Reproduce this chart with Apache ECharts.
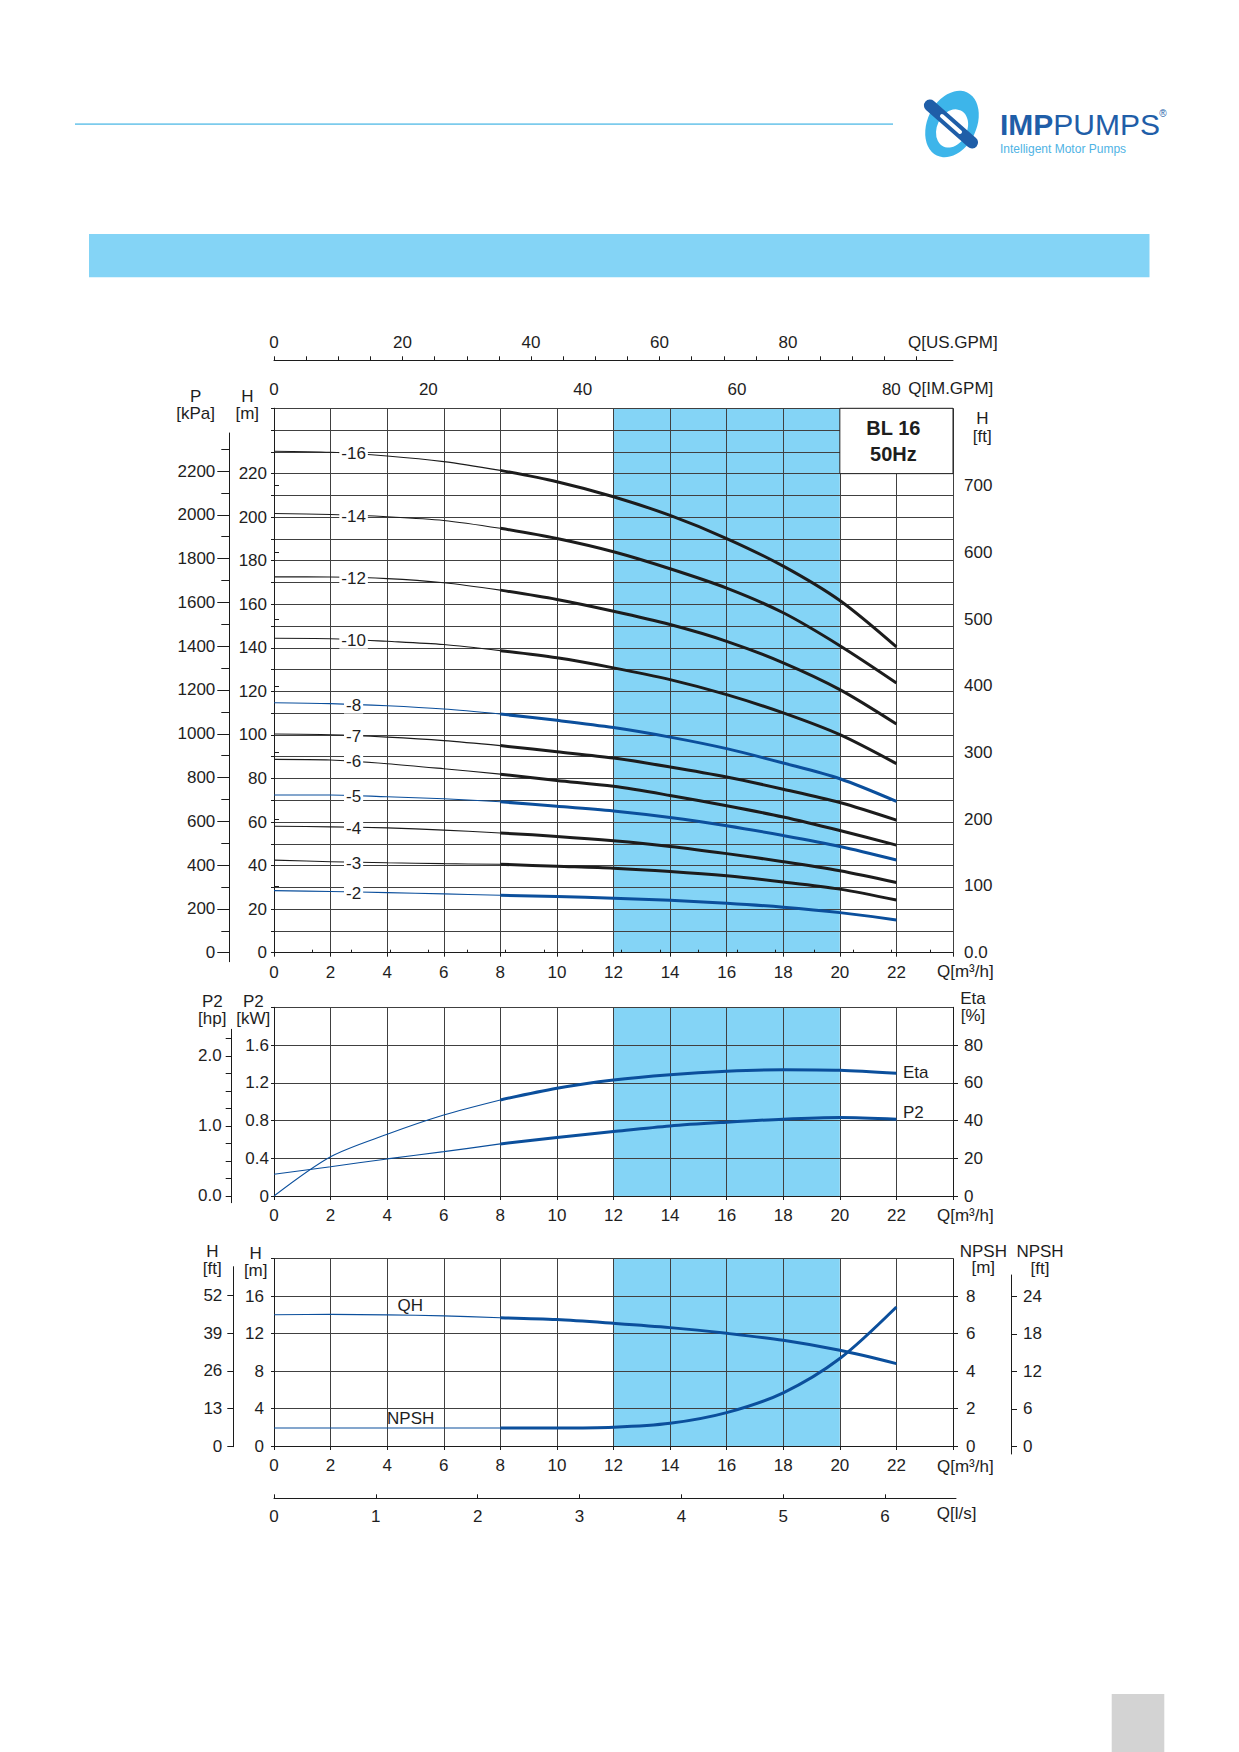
<!DOCTYPE html>
<html><head><meta charset="utf-8">
<script src="https://cdn.jsdelivr.net/npm/echarts@6/dist/echarts.min.js"></script>
<style>html,body{margin:0;padding:0;background:#fff}#c{width:1239px;height:1752px}</style>
</head><body><div id="c"></div>
<script>
// ---------- data ----------
const Q = [0, 2, 4, 6, 8, 10, 12, 14, 16, 18, 20, 22];            // m3/h
const curveNames = ['-16', '-14', '-12', '-10', '-8', '-7', '-6', '-5', '-4', '-3', '-2'];
const curveBlue  = [false, false, false, false, true, false, false, true, false, false, true];
const H16 = [230.3, 229.8, 228.1, 225.5, 221.5, 216.3, 209.4, 200.8, 190.2, 177.5, 161.7, 140.4];
const H14 = [201.7, 201.2, 200.2, 198.5, 194.9, 190.2, 184.1, 176.3, 167.4, 156.1, 141.0, 123.9];
const H12 = [172.6, 172.5, 171.8, 169.9, 166.5, 162.2, 156.8, 150.7, 143.0, 133.1, 120.8, 105.0];
const H10 = [144.4, 144.2, 143.0, 141.5, 138.7, 135.4, 130.8, 125.4, 118.5, 110.1, 100.1, 86.8];
const H8  = [114.8, 114.4, 113.4, 111.9, 109.6, 106.7, 103.4, 99.0, 93.7, 87.1, 79.9, 69.5];
const H7  = [100.4, 100.1, 99.0, 97.4, 95.1, 92.3, 89.4, 85.3, 80.7, 75.1, 69.0, 60.9];
const H6  = [88.8, 88.5, 86.8, 84.5, 82.0, 79.1, 76.4, 72.2, 67.5, 62.3, 56.1, 49.4];
const H5  = [72.4, 72.4, 71.6, 70.7, 69.3, 67.3, 65.1, 62.1, 58.3, 53.8, 48.8, 42.6];
const H4  = [58.1, 57.8, 57.3, 56.3, 55.0, 53.4, 51.4, 48.8, 45.5, 41.8, 37.6, 32.2];
const H3  = [42.5, 41.8, 41.3, 40.9, 40.6, 39.7, 38.8, 37.3, 35.3, 32.5, 29.2, 24.2];
const H2  = [28.5, 28.1, 27.6, 27.0, 26.4, 25.8, 25.0, 24.1, 22.7, 20.9, 18.4, 15.0];
const etaPct = [0, 20.8, 32.7, 42.9, 50.9, 57.1, 61.5, 64.3, 66.1, 66.9, 66.6, 65.0];
const p2kW   = [0.23, 0.31, 0.393, 0.47, 0.552, 0.619, 0.683, 0.743, 0.782, 0.814, 0.831, 0.814];
const qhM    = [14.02, 14.05, 14.0, 13.9, 13.7, 13.5, 13.1, 12.64, 12.03, 11.29, 10.22, 8.8];
const npshM  = [0.96, 0.96, 0.96, 0.96, 0.96, 0.96, 1.0, 1.21, 1.78, 2.84, 4.67, 7.42];
const bandQ  = [12, 20];
const modelBox = [20, 24, 220, 250];
const modelText = 'BL 16\n50Hz';

// tick labels
const qTicks = [0, 2, 4, 6, 8, 10, 12, 14, 16, 18, 20, 22];
const hTicks = [0, 20, 40, 60, 80, 100, 120, 140, 160, 180, 200, 220];
const pTicks = [0, 200, 400, 600, 800, 1000, 1200, 1400, 1600, 1800, 2000, 2200];
const pMinorTicks = [100, 300, 500, 700, 900, 1100, 1300, 1500, 1700, 1900, 2100, 2300];
const ftTicks = [0, 100, 200, 300, 400, 500, 600, 700];
const imTicks = [0, 5, 10, 15, 20, 25, 30, 35, 40, 45, 50, 55, 60, 65, 70, 75, 80, 85];
const imLabels = [0, 20, 40, 60, 80];
const usTicks = [0, 5, 10, 15, 20, 25, 30, 35, 40, 45, 50, 55, 60, 65, 70, 75, 80, 85, 90, 95, 100];
const usLabels = [0, 20, 40, 60, 80];
const kwTicks = [0, 0.4, 0.8, 1.2, 1.6];
const etaTicks = [0, 20, 40, 60, 80];
const hpTicks = [0, 0.25, 0.5, 0.75, 1, 1.25, 1.5, 1.75, 2, 2.25];
const hpLabels = [0, 1, 2];
const hbTicks = [0, 4, 8, 12, 16];
const npshTicks = [0, 2, 4, 6, 8];
const hftTicks = [0, 13, 26, 39, 52];
const npshFtTicks = [0, 6, 12, 18, 24];
const lsTicks = [0, 1, 2, 3, 4, 5, 6];

// ---------- style ----------
const BLACK = '#1c1c1c', BLUE = '#0b4f9c', GRIDC = '#404040', TXT = '#1e1e1e', BAND = '#84d4f6';
const FONT = '"Liberation Sans", Arial, sans-serif';
const FS = 17;
const SMOOTH = 0.3;

const curves = [H16, H14, H12, H10, H8, H7, H6, H5, H4, H3, H2];
const pts = arr => Q.map((q, i) => [q, arr[i]]);
const lbl = (extra) => Object.assign({ color: TXT, fontSize: FS, fontFamily: FONT }, extra || {});
const axLine = { show: true, lineStyle: { color: BLACK, width: 1 } };
const plain = v => String(v);
const ghost = { color: 'rgba(0,0,0,0)', opacity: 1 };

function qAxis(gi) {
  return { gridIndex: gi, type: 'value', min: 0, max: 24, interval: 2, position: 'bottom', z: 2,
    axisLine: axLine, axisTick: { show: true, length: 4, lineStyle: { color: BLACK } },
    axisLabel: lbl({ customValues: qTicks, margin: 11, formatter: plain }),
    splitLine: { show: true, lineStyle: { color: GRIDC, width: 1 } } };
}
function hidden(gi) { return { gridIndex: gi, type: 'value', show: false, min: 0, max: 1 }; }
function sideAxis(gi, pos, min, max, ticks, labels, tlen, margin, fmt) {
  return { gridIndex: gi, type: 'value', position: pos, min: min, max: max, z: 2,
    axisLine: axLine,
    axisTick: { show: true, customValues: ticks, length: tlen, lineStyle: { color: BLACK } },
    axisLabel: labels ? lbl({ customValues: labels, margin: margin, formatter: fmt || plain }) : { show: false },
    splitLine: { show: false } };
}

// ---------- series ----------
const series = [];
// blue duty bands (under grid lines)
[[0, 0], [3, 4], [4, 7]].forEach(([xi, yi]) => {
  series.push({ type: 'line', xAxisIndex: xi, yAxisIndex: yi, data: [], silent: true,
    markArea: { silent: true, z: 1, itemStyle: { color: BAND }, label: { show: false },
      data: [[{ xAxis: bandQ[0] }, { xAxis: bandQ[1] }]] } });
});
// model box
series.push({ type: 'line', xAxisIndex: 0, yAxisIndex: 0, data: [], silent: true, z: 5,
  markArea: { silent: true, z: 5, itemStyle: { color: '#fff', borderColor: BLACK, borderWidth: 1 },
    label: { show: true, position: 'inside', formatter: modelText, color: TXT, fontSize: 20,
      fontWeight: 'bold', fontFamily: FONT, lineHeight: 26, offset: [-3, 0] },
    data: [[{ xAxis: modelBox[0], yAxis: modelBox[2] }, { xAxis: modelBox[1], yAxis: modelBox[3] }]] } });

function addCurve(arr, xi, yi, color) {
  const p = pts(arr);
  series.push({ type: 'line', xAxisIndex: xi, yAxisIndex: yi, data: p.slice(0, 5), showSymbol: false,
    smooth: SMOOTH, silent: true, z: 3, lineStyle: { color: color, width: 1.1 } });
  series.push({ type: 'line', xAxisIndex: xi, yAxisIndex: yi, data: p.slice(4), showSymbol: false,
    smooth: SMOOTH, silent: true, z: 3, lineStyle: { color: color, width: 3 } });
}
curves.forEach((c, i) => addCurve(c, 0, 0, curveBlue[i] ? BLUE : BLACK));
addCurve(etaPct, 3, 5, BLUE);
addCurve(p2kW, 3, 4, BLUE);
addCurve(qhM, 4, 7, BLUE);
addCurve(npshM, 4, 8, BLUE);

// curve labels (white boxes breaking lines)
function labelSeries(xi, yi, data, labelOpt) {
  series.push({ type: 'scatter', xAxisIndex: xi, yAxisIndex: yi, z: 6, silent: true, symbolSize: 1,
    itemStyle: ghost, label: lbl(Object.assign({ show: true, opacity: 1, textBorderWidth: 0 }, labelOpt)), data: data });
}
labelSeries(0, 0, curves.map((c, i) => ({ name: curveNames[i], value: [Q[1], c[1]] })),
  { position: 'inside', offset: [23, 1.5], formatter: p => p.name, backgroundColor: '#fff', padding: [0, 2], lineHeight: 17 });
labelSeries(3, 5, [[Q[11], etaPct[11]]], { position: 'right', distance: 6, offset: [0, -1], formatter: 'Eta' });
labelSeries(3, 4, [[Q[11], p2kW[11]]], { position: 'right', distance: 6, offset: [0, -7], formatter: 'P2' });
labelSeries(4, 7, [[Q[2], qhM[2]]], { position: 'inside', offset: [23, -9], formatter: 'QH' });
labelSeries(4, 8, [[Q[2], npshM[2]]], { position: 'inside', offset: [23.5, -10], formatter: 'NPSH' });

// ---------- graphic (page furniture + axis headers) ----------
function T(text, x, y, align, size, weight, fill) {
  return { type: 'text', silent: true, z: 10, style: { text: text, x: x, y: y, align: align || 'center',
    textAlign: align || 'center', verticalAlign: 'middle', textVerticalAlign: 'middle',
    font: (weight || 'normal') + ' ' + (size || FS) + 'px ' + FONT, fill: fill || TXT } };
}
const LOGO_DARK = '#1f5ea8', LOGO_LIGHT = '#3db5ea';
const graphic = [
  { type: 'rect', silent: true, shape: { x: 75, y: 123.3, width: 818, height: 1.6 }, style: { fill: '#7ccbec' } },
  { type: 'rect', silent: true, shape: { x: 89, y: 234, width: 1060.5, height: 43.3 }, style: { fill: BAND } },
  { type: 'rect', silent: true, shape: { x: 1111.7, y: 1694, width: 52.6, height: 58 }, style: { fill: '#d3d3d3' } },
  // logo icon: tilted light-blue ring crossed by a dark-blue band
  { type: 'group', x: 952, y: 124, rotation: -0.45, silent: true, children: [
    { type: 'circle', shape: { cx: 0, cy: 0, r: 35 }, scaleX: 0.7, style: { fill: LOGO_LIGHT } },
    { type: 'circle', shape: { cx: 0, cy: 0, r: 20 }, x: 2, y: 4, scaleX: 0.75, style: { fill: '#fff' } }
  ] },
  { type: 'group', x: 951, y: 124, rotation: -0.72, silent: true, children: [
    { type: 'rect', shape: { x: -34, y: -6, width: 68, height: 12, r: 6 }, style: { fill: LOGO_DARK } },
    { type: 'rect', shape: { x: -14, y: -2, width: 28, height: 4, r: 2 }, style: { fill: '#fff' } }
  ] },
  { type: 'text', silent: true, style: { x: 1000, y: 124, text: '{b|IMP}{r|PUMPS}', verticalAlign: 'middle', textVerticalAlign: 'middle',
    rich: { b: { fontSize: 30, fontWeight: 'bold', fontFamily: FONT, fill: LOGO_DARK },
            r: { fontSize: 30, fontFamily: FONT, fill: LOGO_DARK } } } },
  T('®', 1163, 113, 'center', 10, 'normal', LOGO_DARK),
  T('Intelligent Motor Pumps', 1000, 149, 'left', 12, 'normal', '#4fb3e4'),
  // main chart headers
  T('Q[US.GPM]', 908, 342.7, 'left'),
  T('Q[IM.GPM]', 908.3, 388.3, 'left'),
  T('P', 195.7, 396), T('[kPa]', 195.7, 413.3),
  T('H', 247.3, 396), T('[m]', 247.3, 413.3),
  T('H', 982.3, 418.3), T('[ft]', 982.3, 436),
  T('Q[m³/h]', 937, 971.7, 'left'),
  // middle chart headers
  T('P2', 212.3, 1001.7), T('[hp]', 212.3, 1018.3),
  T('P2', 253.3, 1001.7), T('[kW]', 253.3, 1018.3),
  T('Eta', 973, 998.3), T('[%]', 973, 1015),
  T('Q[m³/h]', 937, 1215, 'left'),
  // bottom chart headers
  T('H', 212.3, 1251.7), T('[ft]', 212.3, 1268.3),
  T('H', 255.7, 1253.3), T('[m]', 255.7, 1270.7),
  T('NPSH', 983.3, 1251), T('[m]', 983.3, 1267.5),
  T('NPSH', 1040, 1251), T('[ft]', 1040, 1268.5),
  T('Q[m³/h]', 937, 1466, 'left'),
  T('Q[l/s]', 936.7, 1513, 'left')
];

// ---------- option ----------
const option = {
  animation: false,
  backgroundColor: '#fff',
  textStyle: { fontFamily: FONT },
  grid: [
    { left: 274, top: 408.3, width: 679, height: 544.4 },   // 0 main
    { left: 274, top: 359.3, width: 679, height: 1 },       // 1 US GPM
    { left: 229.3, top: 433, width: 1, height: 528.7 },     // 2 kPa minor
    { left: 229.3, top: 433, width: 1, height: 528.7 },     // 3 kPa major
    { left: 274, top: 1007.3, width: 679, height: 188.7 },  // 4 middle
    { left: 231.7, top: 1029.3, width: 1, height: 173.4 },  // 5 hp
    { left: 274, top: 1258.7, width: 679, height: 187.3 },  // 6 bottom
    { left: 233.3, top: 1266.7, width: 1, height: 180 },    // 7 H ft
    { left: 1011, top: 1275, width: 1, height: 179 },       // 8 NPSH ft
    { left: 274, top: 1497.3, width: 682, height: 1 }       // 9 l/s
  ],
  xAxis: [
    qAxis(0),
    { gridIndex: 0, type: 'value', position: 'top', min: 0, max: 24 * 3.6662, z: 2, axisLine: axLine,
      axisTick: { show: true, customValues: imTicks, length: 3, lineStyle: { color: BLACK } },
      axisLabel: lbl({ customValues: imLabels, margin: 10, formatter: plain }), splitLine: { show: false } },
    { gridIndex: 1, type: 'value', position: 'top', min: 0, max: 24 * 4.4029, z: 2, axisLine: axLine,
      axisTick: { show: true, customValues: usTicks, length: 4, lineStyle: { color: BLACK } },
      axisLabel: lbl({ customValues: usLabels, margin: 8, formatter: plain }), splitLine: { show: false } },
    qAxis(4),
    qAxis(6),
    { gridIndex: 9, type: 'value', position: 'bottom', min: 0, max: 682 / (3.6 * 679 / 24), z: 2, axisLine: axLine,
      axisTick: { show: true, inside: true, customValues: lsTicks, length: 4, lineStyle: { color: BLACK } },
      axisLabel: lbl({ customValues: lsTicks, margin: 10, formatter: plain }), splitLine: { show: false } },
    hidden(2), hidden(3), hidden(5), hidden(7), hidden(8)
  ],
  yAxis: [
    { gridIndex: 0, type: 'value', position: 'left', min: 0, max: 250, interval: 10, z: 2, axisLine: axLine,
      axisTick: { show: true, length: 3, lineStyle: { color: BLACK } },
      axisLabel: lbl({ customValues: hTicks, margin: 7, formatter: plain }),
      splitLine: { show: true, lineStyle: { color: GRIDC, width: 1 } } },
    sideAxis(0, 'right', 0, 816, ftTicks, ftTicks, 5, 11, v => v === 0 ? '0.0' : String(v)),
    sideAxis(2, 'left', -41.1, 2373.6, pMinorTicks, null, 8, 0),
    Object.assign(sideAxis(3, 'left', -41.1, 2373.6, pTicks, pTicks, 12, 14), { axisLine: { show: false } }),
    { gridIndex: 4, type: 'value', position: 'left', min: 0, max: 2.0, interval: 0.4, z: 2, axisLine: axLine,
      axisTick: { show: true, length: 3, lineStyle: { color: BLACK } },
      axisLabel: lbl({ customValues: kwTicks, margin: 5, formatter: v => v === 0 ? '0' : v.toFixed(1) }),
      splitLine: { show: true, lineStyle: { color: GRIDC, width: 1 } } },
    sideAxis(4, 'right', 0, 100, etaTicks, etaTicks, 5, 11),
    sideAxis(5, 'left', -0.096, 2.381, hpTicks, hpLabels, 6, 10, v => v.toFixed(1)),
    { gridIndex: 6, type: 'value', position: 'left', min: 0, max: 20, interval: 4, z: 2, axisLine: axLine,
      axisTick: { show: true, length: 3, lineStyle: { color: BLACK } },
      axisLabel: lbl({ customValues: hbTicks, margin: 10, formatter: plain }),
      splitLine: { show: true, lineStyle: { color: GRIDC, width: 1 } } },
    sideAxis(6, 'right', 0, 10, npshTicks, npshTicks, 5, 13),
    sideAxis(7, 'left', -0.24, 62.04, hftTicks, hftTicks, 6, 11),
    sideAxis(8, 'right', -1.2, 27.4, npshFtTicks, npshFtTicks, 6, 11),
    hidden(1), hidden(9)
  ],
  graphic: graphic,
  series: series
};

const chart = echarts.init(document.getElementById('c'), null, { renderer: 'svg', width: 1239, height: 1752 });
chart.setOption(option);
</script>
</body></html>
